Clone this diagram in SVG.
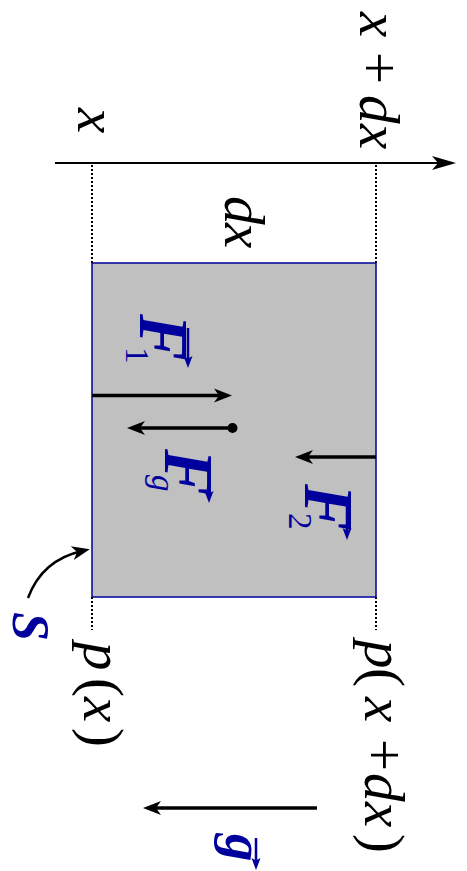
<svg xmlns="http://www.w3.org/2000/svg" width="467" height="871" viewBox="0 0 467 871">
<style>
.m{font-family:"Liberation Serif","DejaVu Serif",serif;font-size:57px;fill:#000}
.i{font-style:italic}
.F{font-family:"Liberation Serif","DejaVu Serif",serif;font-size:70px;font-style:italic;font-weight:bold;fill:#00009c}
.sub{font-family:"Liberation Serif","DejaVu Serif",serif;font-size:33px;fill:#00009c}
.blue{font-family:"Liberation Serif","DejaVu Serif",serif;font-style:italic;font-weight:bold;fill:#00009c}
.dot{stroke:#000;stroke-width:2;stroke-dasharray:2 2;fill:none}
.force{stroke:#000;stroke-width:3.5;fill:none;marker-end:url(#ah)}
.vec{stroke:#00009c;stroke-width:2.5;fill:none;marker-end:url(#vh)}
</style>
<defs>
<marker id="ah" markerUnits="userSpaceOnUse" markerWidth="20" markerHeight="14" refX="10" refY="7" orient="auto" overflow="visible">
<path d="M0,0 L18,7 L0,14 L5,7 z" fill="#000"/>
</marker>
<marker id="axh" markerUnits="userSpaceOnUse" markerWidth="26" markerHeight="14" refX="12" refY="7" orient="auto" overflow="visible">
<path d="M0,0 L24,7 L0,14 L6,7 z" fill="#000"/>
</marker>
<marker id="vh" markerUnits="userSpaceOnUse" markerWidth="12" markerHeight="9" refX="6" refY="4.5" orient="auto" overflow="visible">
<path d="M0,0 L12,4.5 L0,9 L2.5,4.5 z" fill="#00009c"/>
</marker>
</defs>

<g id="element">
<rect x="92" y="263" width="284" height="334" fill="#c0c0c0" stroke="#00009c" stroke-width="1.5"/>
</g>

<g id="connectors">
<line x1="55" y1="163" x2="444" y2="163" stroke="#000" stroke-width="2" marker-end="url(#axh)"/>
<line class="dot" x1="92" y1="165" x2="92" y2="263"/>
<line class="dot" x1="376" y1="165" x2="376" y2="263"/>
<line class="dot" x1="92" y1="597" x2="92" y2="630"/>
<line class="dot" x1="376" y1="597" x2="376" y2="630"/>
<line class="force" x1="92" y1="395.5" x2="224" y2="395.5"/>
<line class="force" x1="232.5" y1="428" x2="135" y2="428"/>
<circle cx="232.5" cy="428" r="5" fill="#000"/>
<line class="force" x1="376" y1="457" x2="303" y2="457"/>
<line class="force" x1="317" y1="808" x2="151" y2="808"/>
<path d="M28,598 Q42,560 82,551" stroke="#000" stroke-width="2.5" fill="none" marker-end="url(#ah)"/>
</g>

<g id="label-x" transform="translate(78,108) rotate(90)">
<text class="m i" x="0" y="0">x</text>
</g>
<g id="label-xdx" transform="translate(360,12) rotate(90)">
<text class="m" y="0"><tspan class="i" x="0">x</tspan><tspan x="40">+</tspan><tspan class="i" x="83">d</tspan><tspan class="i" x="112">x</tspan></text>
</g>
<g id="label-dx" transform="translate(225,196) rotate(90)">
<text class="m" y="0"><tspan class="i" x="0">d</tspan><tspan class="i" x="27">x</tspan></text>
</g>
<g id="label-px" transform="translate(84,642) rotate(90)">
<text class="m" y="0"><tspan class="i" x="0">p</tspan><tspan x="36">(</tspan><tspan class="i" x="55">x</tspan><tspan x="86">)</tspan></text>
</g>
<g id="label-pxdx" transform="translate(365,640) rotate(90)">
<text class="m" y="0"><tspan class="i" x="0">p</tspan><tspan x="28">(</tspan><tspan class="i" x="57">x</tspan><tspan x="99">+</tspan><tspan class="i" x="133">d</tspan><tspan class="i" x="162">x</tspan><tspan x="194">)</tspan></text>
</g>

<g id="F1" transform="translate(140,314) rotate(90)">
<text class="F" x="0" y="0">F</text>
<text class="sub" x="33" y="14">1</text>
<line class="vec" x1="14" y1="-48" x2="48" y2="-48"/>
</g>
<g id="Fg" transform="translate(165,449) rotate(90)">
<text class="F" x="0" y="0">F</text>
<text class="sub i" x="26" y="13">g</text>
<line class="vec" x1="10" y1="-44" x2="48" y2="-44"/>
</g>
<g id="F2" transform="translate(305,484) rotate(90)">
<text class="F" x="0" y="0">F</text>
<text class="sub" x="29" y="16">2</text>
<line class="vec" x1="14" y1="-42" x2="50" y2="-42"/>
</g>

<g id="S" transform="translate(13,612) rotate(90)">
<text class="blue" x="0" y="0" font-size="52">S</text>
</g>
<g id="g" transform="translate(226,834) rotate(90)">
<text class="blue" x="0" y="0" font-size="55">g</text>
<line class="vec" x1="4" y1="-30" x2="30" y2="-30"/>
</g>
</svg>
